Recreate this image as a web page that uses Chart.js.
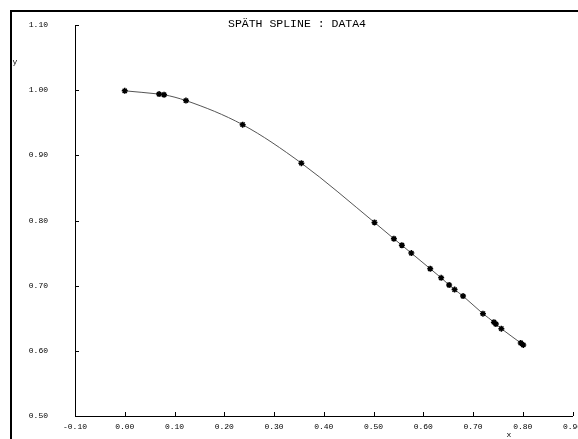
<!DOCTYPE html>
<html>
<head>
<meta charset="utf-8">
<script src="https://cdn.jsdelivr.net/npm/chart.js@4"></script>
<style>
  html, body { margin: 0; padding: 0; background: #fff; overflow: hidden; }
  #c { position: absolute; left: 0; top: 0; }
</style>
</head>
<body>
<canvas id="c" width="578" height="439"></canvas>
<script>
// Sample points of DATA4 and the spline drawn through them
const xValues = [0.000, 0.069, 0.079, 0.123, 0.237, 0.355, 0.502, 0.541, 0.557, 0.576,
                 0.614, 0.636, 0.652, 0.663, 0.680, 0.720, 0.742, 0.746, 0.757, 0.796, 0.801];
const yValues = [0.999, 0.994, 0.993, 0.984, 0.947, 0.888, 0.797, 0.772, 0.762, 0.750,
                 0.726, 0.712, 0.701, 0.694, 0.684, 0.657, 0.644, 0.641, 0.634, 0.612, 0.609];

// Axis tick labels
const xTicks = [-0.10, 0.00, 0.10, 0.20, 0.30, 0.40, 0.50, 0.60, 0.70, 0.80, 0.90];
const yTicks = [0.50, 0.60, 0.70, 0.80, 0.90, 1.00, 1.10];

const chartTitle = 'SPÄTH SPLINE : DATA4';
const xAxisName = 'x';
const yAxisName = 'y';

const MONO = '"Liberation Mono", "DejaVu Sans Mono", monospace';

const points = xValues.map((x, i) => ({ x, y: yValues[i] }));

// Frame, heading, axis names and inward tick marks
const decor = {
  id: 'decor',
  beforeDraw(chart) {
    const ctx = chart.ctx;
    ctx.save();
    ctx.fillStyle = '#fff';
    ctx.fillRect(0, 0, chart.width, chart.height);
    ctx.restore();
  },
  afterDraw(chart) {
    const { ctx, chartArea: a, scales: { x, y } } = chart;
    ctx.save();
    ctx.fillStyle = '#000';
    ctx.fillRect(10, 10, chart.width - 10, 2);
    ctx.fillRect(10, 10, 2, chart.height - 10);

    ctx.strokeStyle = '#000';
    ctx.lineWidth = 1;
    ctx.beginPath();
    x.ticks.forEach(t => {
      const px = Math.round(x.getPixelForValue(t.value)) + 0.5;
      ctx.moveTo(px, a.bottom);
      ctx.lineTo(px, a.bottom - 4);
    });
    y.ticks.forEach(t => {
      const py = Math.round(y.getPixelForValue(t.value)) + 0.5;
      ctx.moveTo(a.left, py);
      ctx.lineTo(a.left + 4, py);
    });
    ctx.stroke();

    ctx.fillStyle = '#000';
    ctx.textBaseline = 'alphabetic';
    ctx.textAlign = 'center';
    ctx.font = '11.5px ' + MONO;
    ctx.fillText(chartTitle, 297, 27);

    ctx.font = '8px ' + MONO;
    ctx.textBaseline = 'middle';
    ctx.fillText(yAxisName, 15, 62);
    ctx.fillText(xAxisName, 509, 435);
    ctx.restore();
  }
};

new Chart(document.getElementById('c'), {
  type: 'scatter',
  data: {
    datasets: [{
      data: points,
      showLine: true,
      cubicInterpolationMode: 'monotone',
      borderColor: '#555',
      borderWidth: 1,
      pointStyle: 'star',
      pointRadius: 3,
      pointBorderWidth: 1.5,
      pointBorderColor: '#000',
      pointBackgroundColor: '#000'
    }]
  },
  options: {
    responsive: false,
    devicePixelRatio: 1,
    animation: false,
    layout: { padding: { top: 25, right: 5, left: 0, bottom: 0 } },
    plugins: {
      legend: { display: false },
      tooltip: { enabled: false },
      title: { display: false }
    },
    scales: {
      x: {
        type: 'linear',
        min: -0.1,
        max: 0.9,
        grid: { display: false, drawTicks: false },
        border: { display: true, color: '#000', width: 1 },
        afterBuildTicks: s => { s.ticks = xTicks.map(v => ({ value: v })); },
        afterFit: s => { s.height = 23; s.paddingLeft = 0; s.paddingRight = 0; },
        ticks: {
          padding: 6,
          maxRotation: 0,
          autoSkip: false,
          color: '#000',
          font: { family: MONO, size: 8 },
          callback: v => v.toFixed(2)
        }
      },
      y: {
        type: 'linear',
        min: 0.5,
        max: 1.1,
        grid: { display: false, drawTicks: false },
        border: { display: true, color: '#000', width: 1 },
        afterBuildTicks: s => { s.ticks = yTicks.map(v => ({ value: v })); },
        afterFit: s => { s.width = 75; s.paddingTop = 0; s.paddingBottom = 0; },
        ticks: {
          padding: 27,
          autoSkip: false,
          color: '#000',
          font: { family: MONO, size: 8 },
          callback: v => v.toFixed(2)
        }
      }
    }
  },
  plugins: [decor]
});
</script>
</body>
</html>
